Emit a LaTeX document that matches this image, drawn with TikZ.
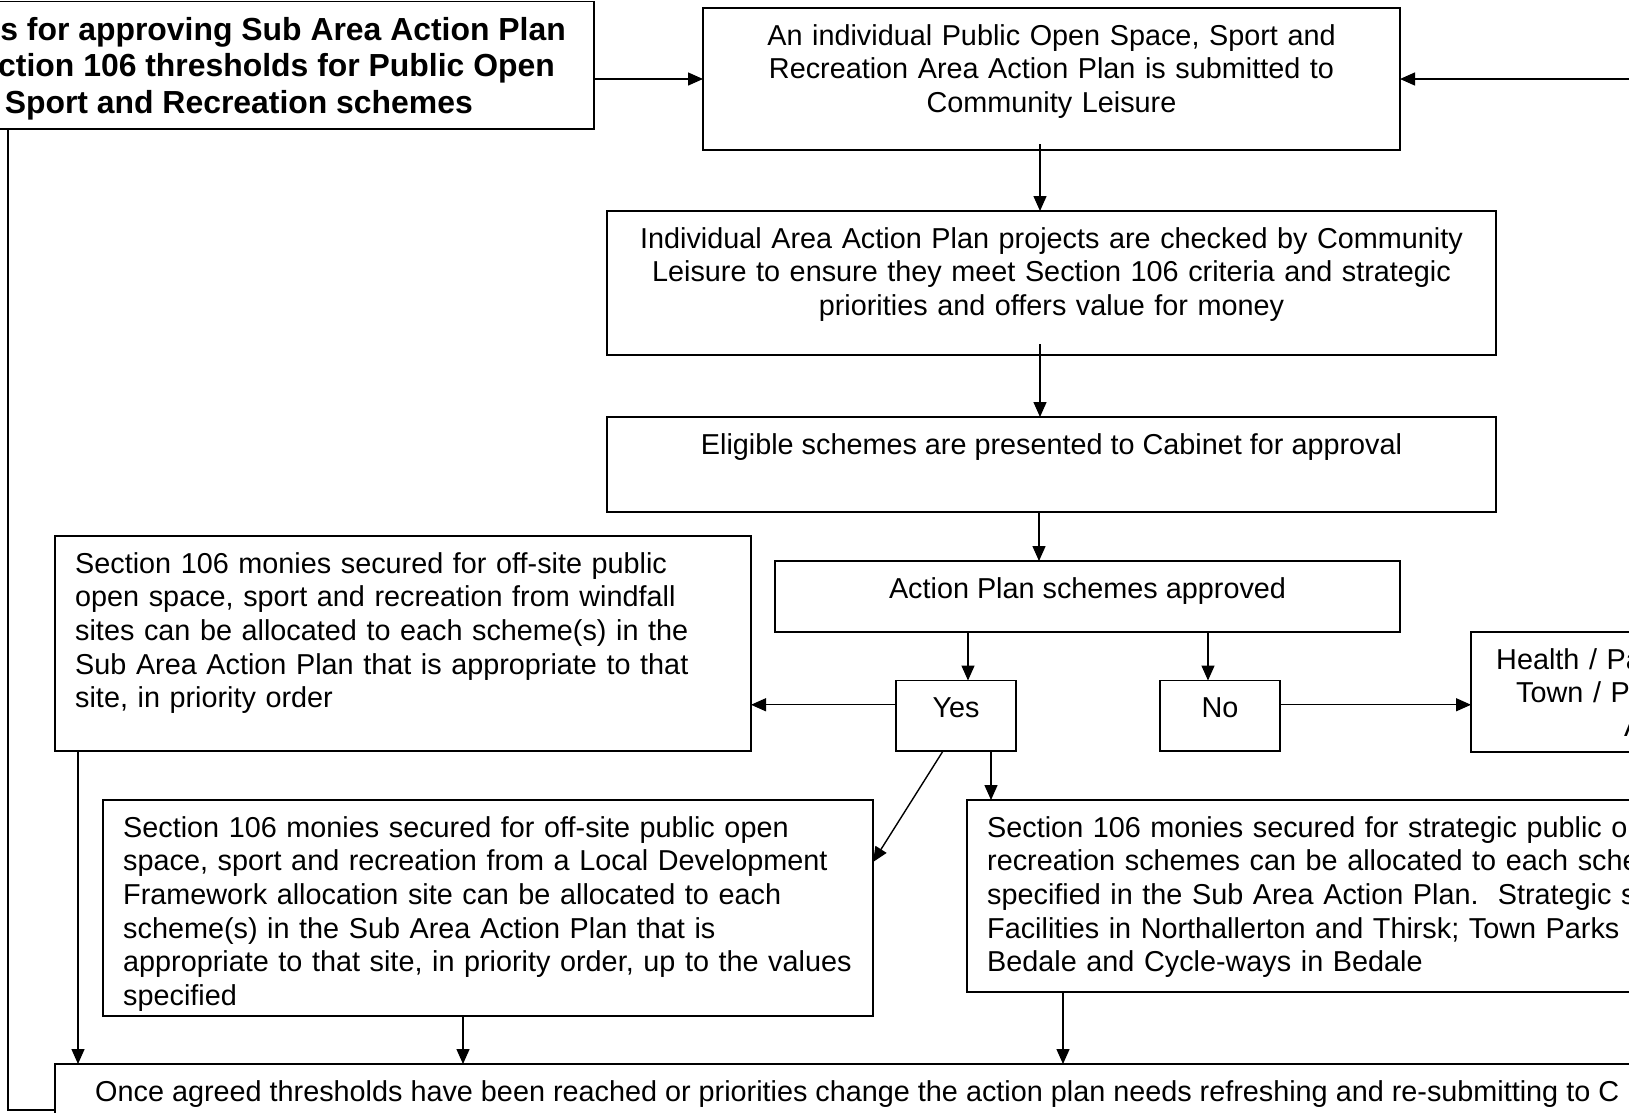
\documentclass[tikz,border=0pt]{standalone}
\usepackage{fontspec}
\setmainfont{Liberation Sans}
\usetikzlibrary{arrows.meta}
\begin{document}
\begin{tikzpicture}[x=1pt,y=-1pt,
  box/.style={draw=black, line width=1.8pt, inner sep=0pt, outer sep=0pt, anchor=north west},
  ttl/.style={inner sep=0pt, font=\fontsize{31.9}{36.5}\selectfont\bfseries},
  stxt/.style={inner sep=0pt, font=\fontsize{28.8}{33.7}\selectfont},
  ctxt/.style={stxt, text width=880pt, align=center},
  ltxt/.style={stxt, text width=1500pt, align=left},
  arr/.style={line width=1.4pt, -{Triangle[length=15pt,width=13pt]}},
  conn/.style={line width=1.4pt}
]
\useasboundingbox (0,0) rectangle (1629,1112);

% title box
\node[box, minimum width=614pt, minimum height=127.5pt] (T) at (-20,1.5) {};
\node[ttl, anchor=base east] (T1) at (566,40) {s for approving Sub Area Action Plan};
\node[ttl, anchor=base east] (T2) at (555,76.5) {ction 106 thresholds for Public Open};
\node[ttl, anchor=base east] (T3) at (473,113) {Sport and Recreation schemes};

\node[box, minimum width=697pt, minimum height=142pt] (A) at (703,8) {};
\node[ctxt, anchor=base] (At) at (1051.5,45) {An individual Public Open Space, Sport and\\Recreation Area Action Plan is submitted to\\Community Leisure};

\node[box, minimum width=889pt, minimum height=144pt] (B) at (607,211) {};
\node[ctxt, anchor=base] (Bt) at (1051.5,248) {Individual Area Action Plan projects are checked by Community\\Leisure to ensure they meet Section 106 criteria and strategic\\priorities and offers value for money};

\node[box, minimum width=889pt, minimum height=95pt] (C) at (607,417) {};
\node[stxt, anchor=base] (Ct) at (1051.5,454) {Eligible schemes are presented to Cabinet for approval};

\node[box, minimum width=625pt, minimum height=71pt] (D) at (775,561) {};
\node[stxt, anchor=base] (Dt) at (1087.5,598) {Action Plan schemes approved};

\node[box, minimum width=120pt, minimum height=70.5pt] (Y) at (896,680.5) {};
\node[stxt, anchor=base] (Yt) at (956,717) {Yes};
\node[box, minimum width=120pt, minimum height=70.5pt] (N) at (1160,680.5) {};
\node[stxt, anchor=base] (Nt) at (1220,717) {No};

\node[box, minimum width=696pt, minimum height=215pt] (E) at (55,536) {};
\node[ltxt, anchor=base west] (Et) at (75,573) {Section 106 monies secured for off-site public\\open space, sport and recreation from windfall\\sites can be allocated to each scheme(s) in the\\Sub Area Action Plan that is appropriate to that\\site, in priority order};

\node[box, minimum width=200pt, minimum height=120pt] (F) at (1471,632) {};
\node[ltxt, anchor=base west] (Ft) at (1496,669) {Health / Pa\\\hspace*{20pt}Town / Pa\\\hspace*{128pt}A};

\node[box, minimum width=770pt, minimum height=216pt] (G) at (103,800) {};
\node[ltxt, anchor=base west] (Gt) at (123,837) {Section 106 monies secured for off-site public open\\space, sport and recreation from a Local Development\\Framework allocation site can be allocated to each\\scheme(s) in the Sub Area Action Plan that is\\appropriate to that site, in priority order, up to the values\\specified};

\node[box, minimum width=700pt, minimum height=192pt] (H) at (967,800) {};
\node[ltxt, anchor=base west] (Ht) at (987,837) {Section 106 monies secured for strategic public o\\recreation schemes can be allocated to each sche\\specified in the Sub Area Action Plan.\ \ Strategic s\\Facilities in Northallerton and Thirsk; Town Parks\\Bedale and Cycle-ways in Bedale};

\node[box, minimum width=1620pt, minimum height=80pt] (I) at (55,1064) {};
\node[stxt, anchor=base west] (It) at (95,1101) {Once agreed thresholds have been reached or priorities change the action plan needs refreshing and re-submitting to C};

% connectors
\coordinate (rin) at (1629,79);
\coordinate (lb) at (8,1110);
\draw[arr] (T.east |- A.west) -- (A.west);
\draw[arr] (rin) -- (A.east);
\draw[arr] ([xshift=-11.5pt,yshift=6pt]A.south) -- ([xshift=-11.5pt]B.north);
\draw[arr] ([xshift=-11.5pt,yshift=11pt]B.south) -- ([xshift=-11.5pt]C.north);
\draw[arr] ([xshift=-12.5pt]C.south) -- ([xshift=-12.5pt]C.south |- D.north);
\draw[arr] ([xshift=12pt]Y.north |- D.south) -- ([xshift=12pt]Y.north);
\draw[arr] ([xshift=-12pt]N.north |- D.south) -- ([xshift=-12pt]N.north);
\draw[arr] ([yshift=11pt]Y.west) -- ([yshift=11pt]Y.west -| E.east);
\draw[arr] ([yshift=11pt]N.east) -- ([yshift=11pt]N.east -| F.west);
\draw[arr] ([xshift=-13pt]Y.south) -- ([yshift=46pt]G.east);
\draw[arr] ([xshift=35pt]Y.south) -- ([xshift=35pt]Y.south |- H.north);
\draw[arr] ([xshift=23pt]E.south west) -- ([xshift=23pt]E.south west |- I.north);
\draw[arr] ([xshift=-25pt]G.south) -- ([xshift=-25pt]G.south |- I.north);
\draw[arr] ([xshift=96pt]H.south west) -- ([xshift=96pt]H.south west |- I.north);
\draw[conn] (I.south west |- lb) -- (lb) -- (lb |- T.south);
\end{tikzpicture}
\end{document}
